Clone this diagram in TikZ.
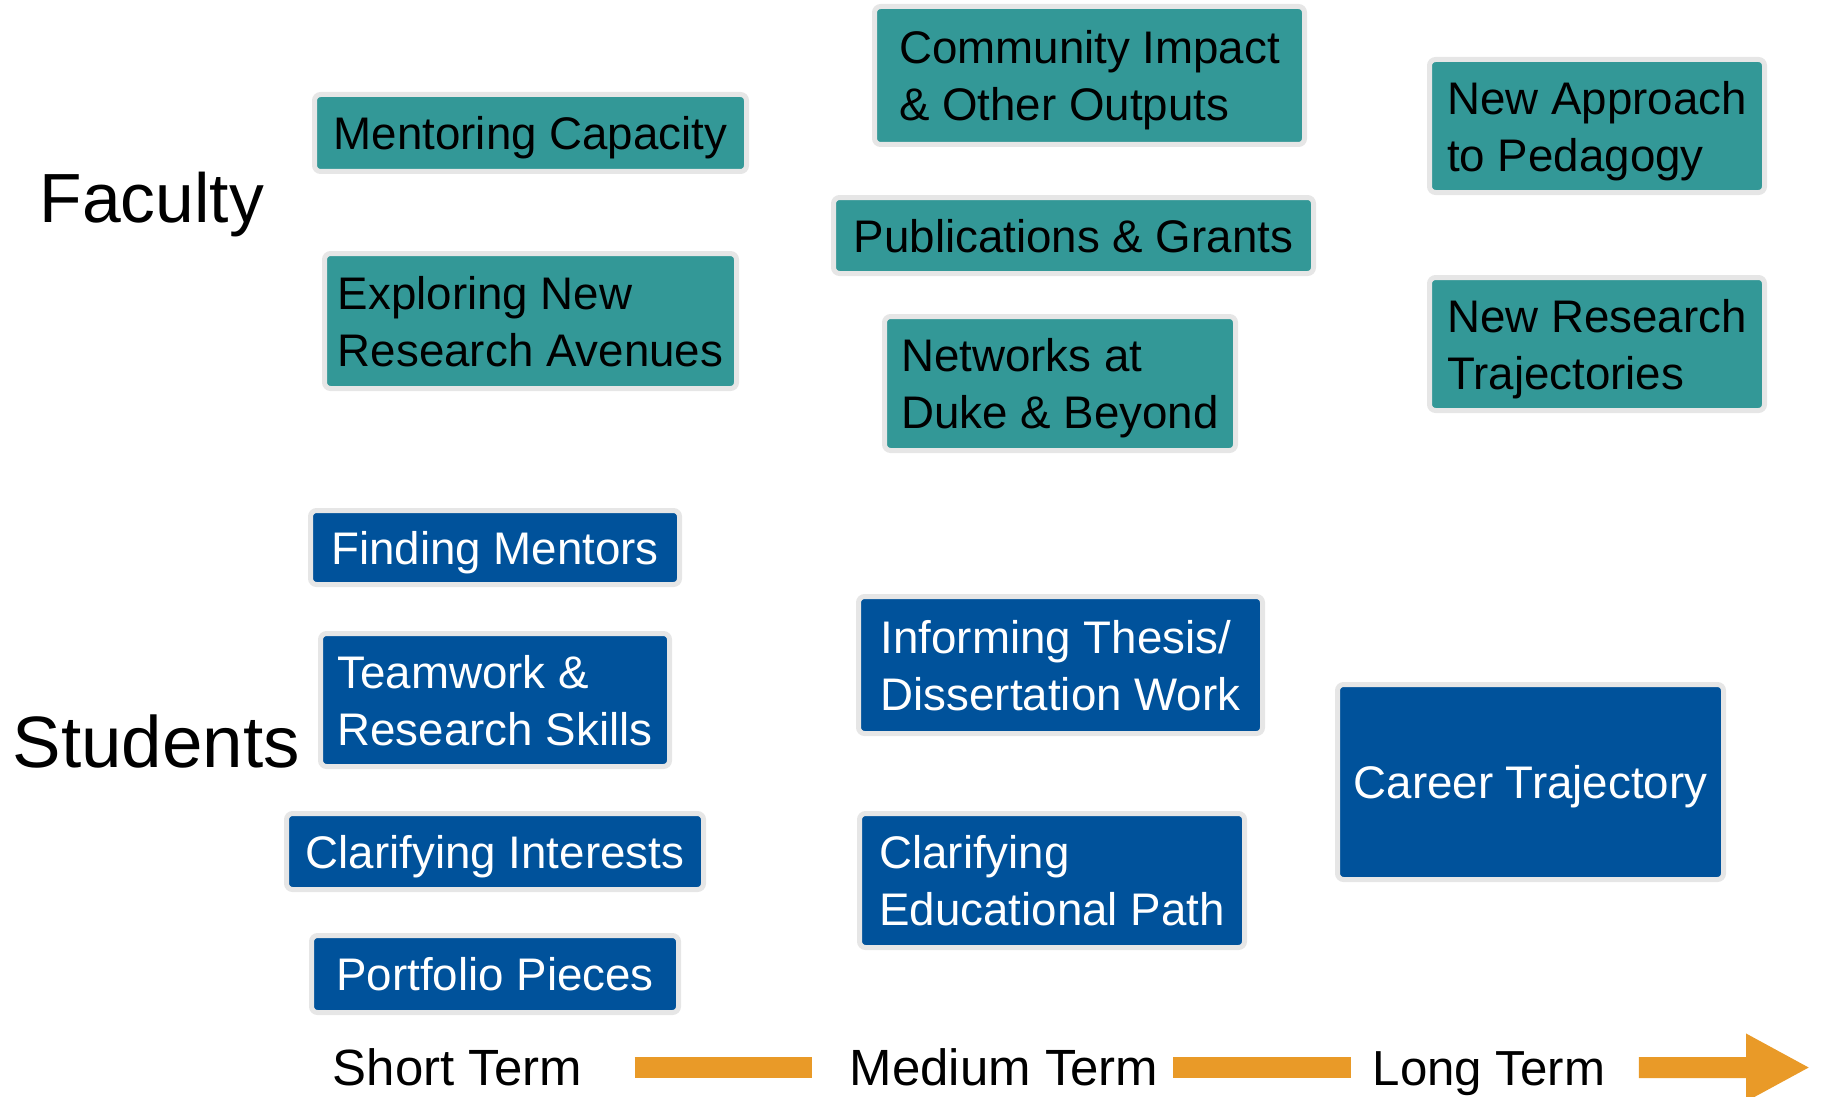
\documentclass[tikz,border=0pt]{standalone}
\usepackage{fontspec}
\setmainfont{Liberation Sans}
\usetikzlibrary{arrows.meta}

\definecolor{facteal}{RGB}{51,152,151}
\definecolor{studblue}{RGB}{0,82,155}
\definecolor{framegray}{RGB}{230,230,230}
\definecolor{termorange}{RGB}{233,154,40}

\begin{document}
\begin{tikzpicture}[
  x=0.1mm, y=-0.1mm,
  outcome/.style={rectangle, draw=framegray, line width=0.5mm,
    rounded corners=0.6mm, inner sep=0pt, align=left,
    font=\fontsize{13}{16.2}\selectfont,
    text height=12.3pt, text depth=2.7pt},
  twoline/.style={text height=28.4pt, text depth=2.7pt},
  facbox/.style={outcome, fill=facteal, text=black},
  studbox/.style={outcome, fill=studblue, text=white},
  boxdim/.style 2 args={minimum width=#1, minimum height=#2},
  grouplabel/.style={anchor=base west, inner sep=0pt,
    font=\fontsize{19.8}{24}\selectfont},
  termlabel/.style={anchor=base west, inner sep=0pt,
    font=\fontsize{14.5}{17}\selectfont},
  termbar/.style={draw=termorange, line width=2.1mm},
]
\useasboundingbox (0,0) rectangle (1824,1096);

% Row labels
\node[grouplabel] (faculty) at (39,222) {Faculty};
\node[grouplabel, font=\fontsize{20.7}{25}\selectfont] (students) at (12,767) {Students};

% Faculty outcomes: short term
\node[facbox, boxdim={43.2mm}{7.7mm}] (mentcap) at (530.5,133) {Mentoring Capacity};
\node[facbox, twoline, boxdim={41.2mm}{13.5mm}] (explore) at (530.5,321)
  {Exploring New\\Research Avenues};

% Faculty outcomes: medium term
\node[facbox, twoline, boxdim={43.0mm}{13.8mm}] (impact) at (1089.5,75.5)
  {Community Impact\\\& Other Outputs};
\node[facbox, boxdim={48.0mm}{7.6mm}] (pubs) at (1073.5,235.5) {Publications \& Grants};
\node[facbox, twoline, boxdim={35.1mm}{13.4mm}] (networks) at (1060,383.5)
  {Networks at\\Duke \& Beyond};

% Faculty outcomes: long term
\node[facbox, twoline, boxdim={33.5mm}{13.3mm}] (pedagogy) at (1597,126)
  {New Approach\\to Pedagogy};
\node[facbox, twoline, boxdim={33.5mm}{13.3mm}] (trajres) at (1597,344)
  {New Research\\Trajectories};

% Student outcomes: short term
\node[studbox, boxdim={36.9mm}{7.4mm}] (findment) at (495,547.5) {Finding Mentors};
\node[studbox, twoline, boxdim={34.9mm}{13.3mm}] (teamwork) at (495,700)
  {Teamwork \&\\Research Skills};
\node[studbox, boxdim={41.7mm}{7.6mm}] (interests) at (495,851.5) {Clarifying Interests};
\node[studbox, boxdim={36.7mm}{7.7mm}] (portfolio) at (495,974) {Portfolio Pieces};

% Student outcomes: medium term
\node[studbox, twoline, boxdim={40.4mm}{13.7mm}] (thesis) at (1060.5,665)
  {Informing Thesis/\\Dissertation Work};
\node[studbox, twoline, boxdim={38.5mm}{13.4mm}] (edupath) at (1052,880.5)
  {Clarifying\\Educational Path};

% Student outcomes: long term
\node[studbox, boxdim={38.6mm}{19.5mm}, align=center] (career) at (1530.5,782)
  {Career Trajectory};

% Time axis
\node[termlabel] (short) at (332,1085) {Short Term};
\node[termlabel] (medium) at (849,1085) {Medium Term};
\node[termlabel, font=\fontsize{14}{17}\selectfont] (long) at (1372,1085) {Long Term};
\coordinate (tip) at (1810,1067.5);

\draw[termbar] ([shift={(5.2mm,1.75mm)}]short.base east)
  -- ([shift={(-3.7mm,1.75mm)}]medium.base west);
\draw[termbar] ([shift={(1.4mm,1.75mm)}]medium.base east)
  -- ([shift={(-2.1mm,1.75mm)}]long.base west);
\draw[termbar, -{Triangle[length=6.4mm, width=6.3mm]}]
  ([shift={(3.3mm,1.75mm)}]long.base east) -- (tip);

\end{tikzpicture}
\end{document}
